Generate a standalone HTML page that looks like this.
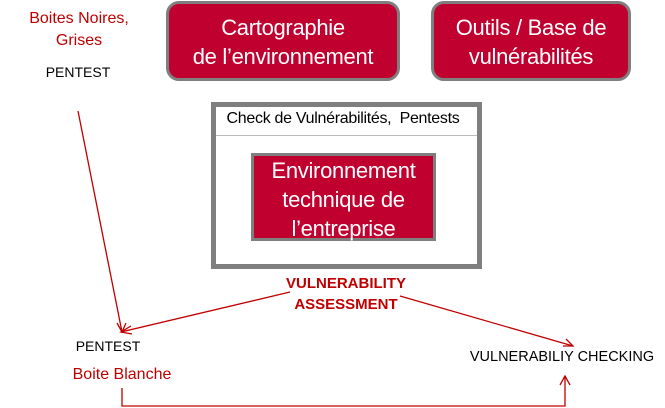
<!DOCTYPE html>
<html><head><meta charset="utf-8"><style>
body{margin:0;width:665px;height:408px;background:#fff;position:relative;overflow:hidden;font-family:"Liberation Sans",sans-serif}
.t{position:absolute;white-space:nowrap;transform:translateX(-50%);font-size:13px}
.r{color:#c00000}
.box{position:absolute;background:#c0002f;color:#fff;text-align:center;box-sizing:border-box;font-size:22px;line-height:29px;white-space:nowrap;letter-spacing:-0.3px}
</style></head><body>
<div class="box" style="left:166px;top:1px;width:234px;height:80px;border:3px solid #7f7f7f;border-radius:13px;padding-top:9px">Cartographie<br>de l’environnement</div>
<div class="box" style="left:431px;top:1px;width:200px;height:80px;border:3px solid #7f7f7f;border-radius:13px;padding-top:9px">Outils / Base de<br>vulnérabilités</div>
<div style="position:absolute;left:211px;top:102px;width:271px;height:167px;border:5px solid #7f7f7f;box-sizing:border-box"></div>
<div style="position:absolute;left:216px;top:135px;width:261px;height:1px;background:#bbb"></div>
<div class="t" style="left:343px;top:110px;font-size:16px;letter-spacing:-0.3px">Check de Vulnérabilités,&nbsp; Pentests</div>
<div class="box" style="left:251px;top:153px;width:185px;height:88px;border:3px solid #7f7f7f;line-height:29px;padding-top:0px">Environnement<br>technique de<br>l’entreprise</div>
<div class="t r" style="left:79px;top:8px;line-height:22px;text-align:center;font-size:16px">Boites Noires,<br>Grises</div>
<div class="t" style="left:78px;top:64px;font-size:14px">PENTEST</div>
<div class="t r" style="left:346px;top:273px;font-weight:bold;line-height:21px;text-align:center;font-size:15px">VULNERABILITY<br>ASSESSMENT</div>
<div class="t" style="left:108px;top:338px;font-size:14px">PENTEST</div>
<div class="t r" style="left:122px;top:366px;font-size:16px">Boite Blanche</div>
<div class="t" style="left:562px;top:349px;font-size:14.5px">VULNERABILIY CHECKING</div>
<svg width="665" height="408" style="position:absolute;left:0;top:0">
<g stroke="#c00000" stroke-width="1.3" fill="none">
<line x1="78" y1="111" x2="122" y2="332"/>
<polyline points="117,323 122,332 126,323"/>
<line x1="290" y1="292" x2="121" y2="332"/>
<polyline points="131,326 121,332 132,334"/>
<line x1="400" y1="296" x2="573" y2="346"/>
<polyline points="563,346 573,346 566,339"/>
<polyline points="122,388 122,406 565,406 565,376"/>
<polyline points="560,385 565,376 570,385"/>
</g></svg>
</body></html>
